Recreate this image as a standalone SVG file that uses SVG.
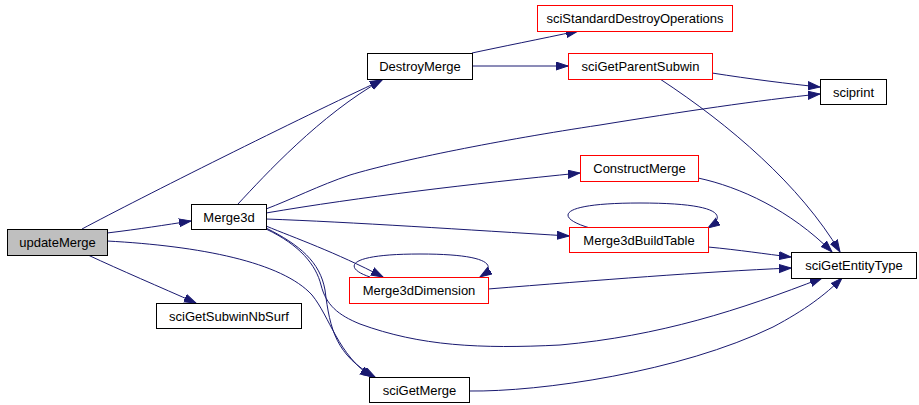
<svg xmlns="http://www.w3.org/2000/svg" width="919" height="405" viewBox="0 0 919 405">
<defs>
<marker id="ah" markerUnits="userSpaceOnUse" markerWidth="13" markerHeight="10" refX="12" refY="4.5" orient="auto">
<path d="M0,0.5 L12,4.5 L0,8.5 z" fill="#191970" stroke="#191970" stroke-width="1"/>
</marker>
<style>
.n rect{fill:#fff;stroke:#000;stroke-width:1}
.n.r rect{stroke:#ff0000}
.n.g rect{fill:#bfbfbf}
.n text{font-family:"Liberation Sans",Arial,sans-serif;font-size:13px;fill:#000;text-anchor:middle}
#edges path{fill:none;stroke:#191970;stroke-width:1;marker-end:url(#ah)}
</style>
</defs>
<rect width="919" height="405" fill="#fff"/>
<g id="edges">
<path d="M82,229 C140,198 300,118 382,80"/>
<path d="M238,204 C265,175 320,115 382,80"/>
<path d="M107,233 C140,229 165,225 191,221"/>
<path d="M88,255 C120,270 160,287 196,303"/>
<path d="M107,241 C200,246 282,262 312,295 C330,317 338,355 372,377"/>
<path d="M266,228 C300,245 320,262 325,290 C330,330 336,355 375,377"/>
<path d="M266,229 C300,245 316,265 321,285 C326,305 338,315 360,324 C420,346 480,349 560,345 C660,336 740,310 822,278"/>
<path d="M266,226 C295,238 335,252 383,277"/>
<path d="M266,219 C350,222 470,230 569,236"/>
<path d="M266,213 C360,197 470,184 580,173"/>
<path d="M266,209 C290,200 320,185 350,175 C400,160 500,140 600,125 C680,112 760,100 820,94"/>
<path d="M472,53 C500,47 540,39 578,31"/>
<path d="M472,66 L568,66"/>
<path d="M712,73 C750,79 790,84 820,87"/>
<path d="M660,79 C730,125 800,185 840,252"/>
<path d="M698,178 C740,187 790,210 832,252"/>
<path d="M708,247 C740,250 765,254 791,257"/>
<path d="M488,289 C600,280 700,272 791,268"/>
<path d="M469,391 C540,392 680,372 773,327 C805,310 825,295 842,278"/>
<path d="M590,228 C555,218 555,203 640,203 C715,203 730,214 708,228"/>
<path d="M370,277 C343,268 345,254 420,254 C485,254 500,264 480,277"/>
</g>
<g id="updateMerge" class="n g"><rect x="7.5" y="229.5" width="100" height="26"/><text x="57.5" y="247">updateMerge</text></g>
<g id="Merge3d" class="n"><rect x="191.5" y="204.5" width="75" height="25"/><text x="229" y="221.5">Merge3d</text></g>
<g id="sciGetSubwinNbSurf" class="n"><rect x="156.5" y="303.5" width="145" height="25"/><text x="229" y="320.5">sciGetSubwinNbSurf</text></g>
<g id="DestroyMerge" class="n"><rect x="367.5" y="53.5" width="105" height="26"/><text x="420" y="71">DestroyMerge</text></g>
<g id="sciStandardDestroyOperations" class="n r"><rect x="537.5" y="5.5" width="195" height="26"/><text x="635" y="23">sciStandardDestroyOperations</text></g>
<g id="sciGetParentSubwin" class="n r"><rect x="568.5" y="53.5" width="144" height="26"/><text x="640.5" y="71">sciGetParentSubwin</text></g>
<g id="sciprint" class="n"><rect x="820.5" y="79.5" width="66" height="25"/><text x="853.5" y="96.5">sciprint</text></g>
<g id="ConstructMerge" class="n r"><rect x="580.5" y="155.5" width="118" height="26"/><text x="639.5" y="173">ConstructMerge</text></g>
<g id="Merge3dBuildTable" class="n r"><rect x="569.5" y="227.5" width="139" height="25"/><text x="639" y="244.5">Merge3dBuildTable</text></g>
<g id="Merge3dDimension" class="n r"><rect x="349.5" y="277.5" width="139" height="26"/><text x="419" y="295">Merge3dDimension</text></g>
<g id="sciGetEntityType" class="n"><rect x="791.5" y="252.5" width="125" height="26"/><text x="854" y="270">sciGetEntityType</text></g>
<g id="sciGetMerge" class="n"><rect x="369.5" y="377.5" width="100" height="25"/><text x="419.5" y="394.5">sciGetMerge</text></g>
</svg>
